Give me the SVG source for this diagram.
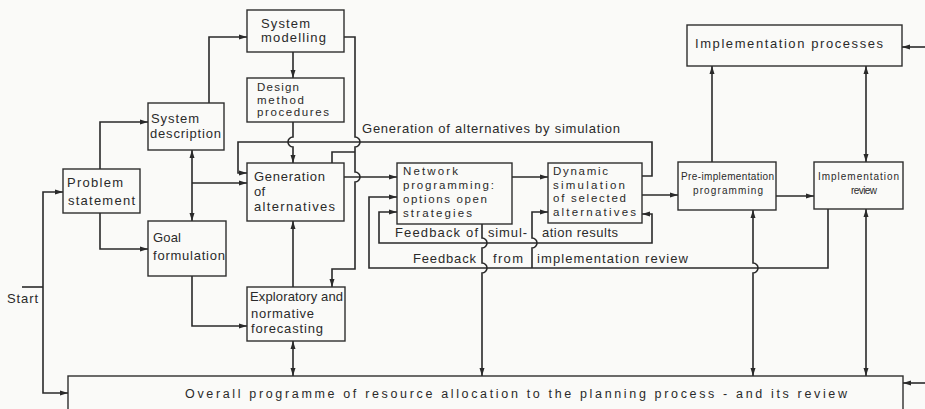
<svg xmlns="http://www.w3.org/2000/svg" width="925" height="409" viewBox="0 0 925 409">
  <defs>
    <marker id="arr" viewBox="0 0 8 6" markerWidth="8" markerHeight="6" refX="8" refY="3" orient="auto-start-reverse" markerUnits="userSpaceOnUse">
      <path d="M0,0.5 L8,3 L0,5.5 z" fill="#2a2a2a"/>
    </marker>
  </defs>
  <style>
    .box { fill: none; stroke: #2e2e2e; stroke-width: 1.4; }
    .ln { fill: none; stroke: #2a2a2a; stroke-width: 1.6; stroke-linejoin: miter; }
    .a { marker-end: url(#arr); }
    .aa { marker-start: url(#arr); marker-end: url(#arr); }
    text { font-family: "Liberation Sans", Arial, sans-serif; font-size: 13px; fill: #2a2a2a; }
    .sm { font-size: 10px; }
    .tight { font-size: 11.5px; }
    .lbl { font-size: 12.5px; }
  </style>
  <rect x="0" y="0" width="925" height="409" fill="#fafaf8"/>

  <g id="connectors">
    <!-- start line and its two branches -->
    <path class="ln" d="M22,287 H43"/>
    <path class="ln a" d="M43,287 V192 H63"/>
    <path class="ln a" d="M43,287 V393 H68"/>
    <!-- problem statement to description and goals -->
    <path class="ln a" d="M100,169 V122 H148"/>
    <path class="ln a" d="M100,213 V249 H148"/>
    <!-- description to modelling -->
    <path class="ln a" d="M209,103 V37 H247"/>
    <!-- description / goal link and branch to generation -->
    <path class="ln aa" d="M192,150 V221"/>
    <path class="ln a" d="M192,183 H247"/>
    <!-- goal to forecasting -->
    <path class="ln a" d="M192,276 V326 H247"/>
    <!-- modelling to design method to generation -->
    <path class="ln a" d="M293,52 V78"/>
    <path class="ln a" d="M293,122 V137 a5,5 0 0 0 0,10 V163"/>
    <!-- generation of alternatives by simulation -->
    <path class="ln a" d="M642,176 H652 V142 H238 V173 H247"/>
    <!-- modelling down the right side to forecasting -->
    <path class="ln a" d="M344,37 H355 V137 a5,5 0 0 1 0,10 V172 a5,5 0 0 1 0,10 V269 H332 V287"/>
    <path class="ln" d="M332,163 V152 H355"/>
    <!-- generation to network programming -->
    <path class="ln a" d="M344,177 H397"/>
    <!-- forecasting to generation, forecasting to programme -->
    <path class="ln a" d="M293,287 V221"/>
    <path class="ln aa" d="M293,341 V376"/>
    <!-- main chain -->
    <path class="ln a" d="M512,177 H548"/>
    <path class="ln a" d="M642,195 H678"/>
    <path class="ln a" d="M776,196 H814"/>
    <path class="ln a" d="M712,162 V66"/>
    <path class="ln aa" d="M866,66 V162"/>
    <path class="ln aa" d="M866,209 V376"/>
    <path class="ln a" d="M925,47 H902"/>
    <path class="ln a" d="M925,383 H903"/>
    <!-- pre-implementation to programme -->
    <path class="ln aa" d="M753,210 V263 a5,5 0 0 1 0,10 V376"/>
    <!-- network programming to programme -->
    <path class="ln a" d="M482,224 V238 a5,5 0 0 1 0,10 V263 a5,5 0 0 1 0,10 V376"/>
    <!-- feedback of simulation results -->
    <path class="ln aa" d="M642,214 H652 V243 H379 V212 H397"/>
    <!-- feedback from implementation review -->
    <path class="ln a" d="M828,209 V268 H369 V197 H397"/>
    <path class="ln a" d="M532,268 V248 a5,5 0 0 0 0,-10 V212 H548"/>
  </g>

  <g id="connector-labels">
    <text x="362" y="133" textLength="258" lengthAdjust="spacing">Generation of alternatives by simulation</text>
    <text x="395" y="237" textLength="83" lengthAdjust="spacing">Feedback of</text>
    <text x="488" y="237" textLength="39" lengthAdjust="spacing">simul-</text>
    <text x="542" y="237" textLength="76" lengthAdjust="spacing">ation results</text>
    <text x="413" y="263" textLength="63" lengthAdjust="spacing">Feedback</text>
    <text x="493" y="263" textLength="30" lengthAdjust="spacing">from</text>
    <text x="537" y="263" textLength="151" lengthAdjust="spacing">implementation review</text>
    <text x="7" y="303" textLength="31" lengthAdjust="spacing">Start</text>
  </g>

  <g id="problem-statement">
    <rect class="box" x="63" y="169" width="77" height="44"/>
    <text x="67" y="187" textLength="56" lengthAdjust="spacing">Problem</text>
    <text x="68" y="205" textLength="67" lengthAdjust="spacing">statement</text>
  </g>
  <g id="system-description">
    <rect class="box" x="148" y="103" width="76" height="47"/>
    <text x="151" y="123" textLength="48" lengthAdjust="spacing">System</text>
    <text x="150" y="138" textLength="71" lengthAdjust="spacing">description</text>
  </g>
  <g id="goal-formulation">
    <rect class="box" x="148" y="221" width="78" height="55"/>
    <text x="153" y="242" textLength="28" lengthAdjust="spacing">Goal</text>
    <text x="153" y="260" textLength="72" lengthAdjust="spacing">formulation</text>
  </g>
  <g id="system-modelling">
    <rect class="box" x="247" y="10" width="97" height="42"/>
    <text x="261" y="28" textLength="49" lengthAdjust="spacing">System</text>
    <text x="261" y="42" textLength="65" lengthAdjust="spacing">modelling</text>
  </g>
  <g id="design-method">
    <rect class="box" x="247" y="78" width="97" height="44"/>
    <text class="tight" x="257" y="91" textLength="42" lengthAdjust="spacing">Design</text>
    <text class="tight" x="257" y="103.5" textLength="47" lengthAdjust="spacing">method</text>
    <text class="tight" x="257" y="116" textLength="72" lengthAdjust="spacing">procedures</text>
  </g>
  <g id="generation">
    <rect class="box" x="247" y="163" width="97" height="58"/>
    <text x="254" y="181" textLength="71" lengthAdjust="spacing">Generation</text>
    <text x="254" y="196" textLength="11" lengthAdjust="spacing">of</text>
    <text x="254" y="211" textLength="81" lengthAdjust="spacing">alternatives</text>
  </g>
  <g id="forecasting">
    <rect class="box" x="247" y="287" width="98" height="54"/>
    <text x="250" y="301" textLength="93" lengthAdjust="spacing">Exploratory and</text>
    <text x="251" y="318" textLength="63" lengthAdjust="spacing">normative</text>
    <text x="251" y="333" textLength="72" lengthAdjust="spacing">forecasting</text>
  </g>
  <g id="network-programming">
    <rect class="box" x="397" y="163" width="115" height="61"/>
    <text class="tight" x="403" y="175" textLength="55" lengthAdjust="spacing">Network</text>
    <text class="tight" x="403" y="189" textLength="91" lengthAdjust="spacing">programming:</text>
    <text class="tight" x="403" y="203" textLength="84" lengthAdjust="spacing">options open</text>
    <text class="tight" x="403" y="217" textLength="69" lengthAdjust="spacing">strategies</text>
  </g>
  <g id="dynamic-simulation">
    <rect class="box" x="548" y="163" width="94" height="60"/>
    <text class="tight" x="553" y="175" textLength="55" lengthAdjust="spacing">Dynamic</text>
    <text class="tight" x="553" y="188.5" textLength="72" lengthAdjust="spacing">simulation</text>
    <text class="tight" x="553" y="202" textLength="73" lengthAdjust="spacing">of selected</text>
    <text class="tight" x="553" y="216" textLength="83" lengthAdjust="spacing">alternatives</text>
  </g>
  <g id="pre-implementation">
    <rect class="box" x="678" y="162" width="98" height="48"/>
    <text class="sm" x="681" y="180" textLength="93" lengthAdjust="spacing">Pre-implementation</text>
    <text class="sm" x="693" y="194" textLength="70" lengthAdjust="spacing">programming</text>
  </g>
  <g id="implementation-review">
    <rect class="box" x="814" y="162" width="89" height="47"/>
    <text class="sm" x="818" y="180" textLength="81" lengthAdjust="spacing">Implementation</text>
    <text class="sm" x="851" y="194" textLength="26" lengthAdjust="spacing">review</text>
  </g>
  <g id="implementation-processes">
    <rect class="box" x="687" y="25" width="215" height="41"/>
    <text x="695" y="48" textLength="188" lengthAdjust="spacing">Implementation   processes</text>
  </g>
  <g id="resource-programme">
    <rect class="box" x="68" y="376" width="835" height="50"/>
    <text class="lbl" x="185" y="398" textLength="662" lengthAdjust="spacing">Overall  programme  of  resource  allocation  to  the  planning  process -  and  its  review</text>
  </g>
</svg>
